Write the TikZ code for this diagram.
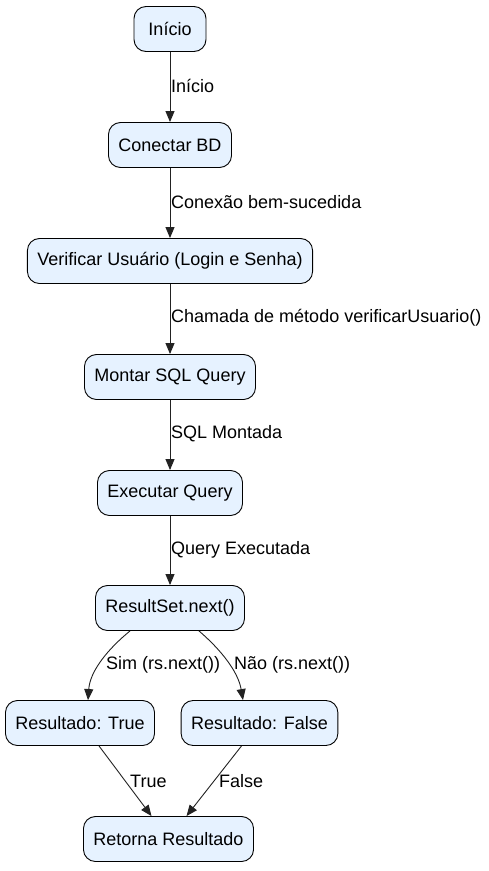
\documentclass[tikz,border=0pt]{standalone}
\usepackage{fontspec}
\setmainfont{Liberation Sans}
\usetikzlibrary{arrows.meta}
\definecolor{nodefill}{HTML}{E6F2FF}
\definecolor{edgecol}{HTML}{222222}
\tikzset{
  box/.style={draw=black, line width=0.9pt, fill=nodefill, rounded corners=12pt,
    minimum height=45pt, minimum width=72pt, inner xsep=10pt, font=\fontsize{18}{21}\selectfont},
  conn/.style={draw=edgecol, line width=0.9pt, -{Triangle[length=11pt,width=9pt]}},
  lbl/.style={font=\fontsize{18}{21}\selectfont, inner sep=0pt, anchor=west}
}
\begin{document}
\begin{tikzpicture}[x=1pt,y=-1pt]
\useasboundingbox (0,0) rectangle (489,871);
\node[box] (n1) at (170,29) {Início};
\node[box] (n2) at (170,145) {Conectar BD};
\node[box] (n3) at (170,261) {Verificar Usuário (Login e Senha)};
\node[box] (n4) at (170,377) {Montar SQL Query};
\node[box] (n5) at (170,493) {Executar Query};
\node[box] (n6) at (170,608) {ResultSet.next()};
\node[box] (n7) at (80,723) {Resultado: True};
\node[box] (n8) at (259.5,723) {Resultado: False};
\node[box] (n9) at (168.5,839) {Retorna Resultado};

\draw[conn] (n1) -- (n2);
\draw[conn] (n2) -- (n3);
\draw[conn] (n3) -- (n4);
\draw[conn] (n4) -- (n5);
\draw[conn] (n5) -- (n6);
\draw[conn] ([xshift=-40pt]n6.south) .. controls ([xshift=-62pt,yshift=-18pt]n6.south) and ([xshift=-80pt,yshift=-40pt]n6.south) .. ([xshift=8pt]n7.north);
\draw[conn] ([xshift=29pt]n6.south) .. controls ([xshift=50pt,yshift=-18pt]n6.south) and ([xshift=68pt,yshift=-40pt]n6.south) .. ([xshift=-16.5pt]n8.north);
\draw[conn] ([xshift=19pt]n7.south) -- ([xshift=-17pt]n9.north);
\draw[conn] ([xshift=-18pt]n8.south) -- ([xshift=18pt]n9.north);

\node[lbl] (l1) at (171,86) {Início};
\node[lbl] (l2) at (171,202) {Conexão bem-sucedida};
\node[lbl] (l3) at (171,318) {Chamada de método verificarUsuario()};
\node[lbl] (l4) at (171,434) {SQL Montada};
\node[lbl] (l5) at (171,550) {Query Executada};
\node[lbl] (l6) at (106,665) {Sim (rs.next())};
\node[lbl] (l7) at (234,665) {Não (rs.next())};
\node[lbl] (l8) at (130,781) {True};
\node[lbl] (l9) at (219,781) {False};
\end{tikzpicture}
\end{document}
